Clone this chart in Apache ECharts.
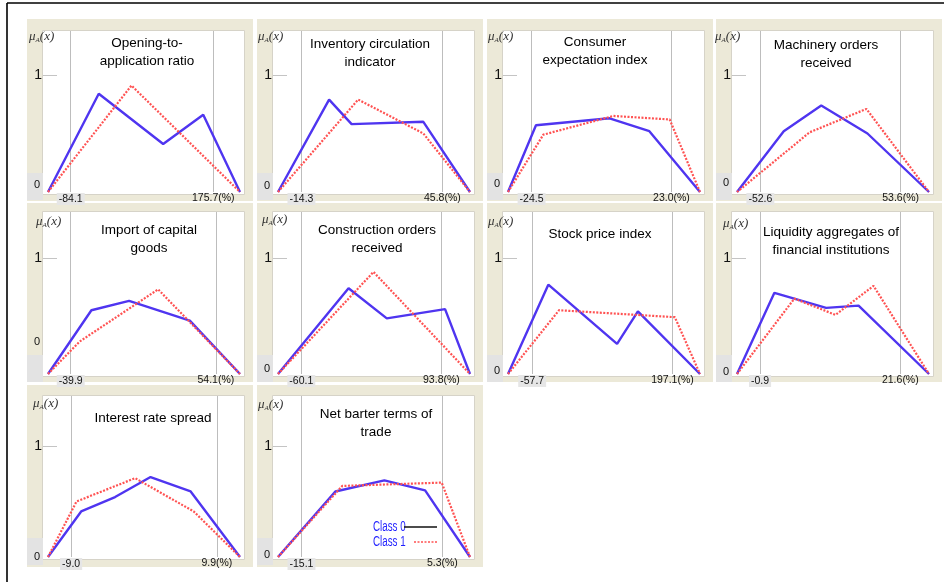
<!DOCTYPE html>
<html>
<head>
<meta charset="utf-8">
<script src="https://cdn.jsdelivr.net/npm/echarts@6/dist/echarts.min.js"></script>
<style>
  html, body { margin: 0; padding: 0; background: #fff; }
  #chart { width: 944px; height: 582px; }
</style>
</head>
<body>
<div id="chart"></div>
<script>
// Indicator names, one per panel
const titles = [
  'Opening-to-\napplication ratio', 'Inventory circulation\nindicator', 'Consumer\nexpectation index', 'Machinery orders\nreceived',
  'Import of capital\ngoods', 'Construction orders\nreceived', 'Stock price index', 'Liquidity aggregates of\nfinancial institutions',
  'Interest rate spread', 'Net barter terms of\ntrade'
];

// Observed range of each indicator (%), marked by the grey guide lines
const rangeMin = [-84.1, -14.3, -24.5, -52.6, -39.9, -60.1, -57.7, -0.9, -9.0, -15.1];
const rangeMax = [175.7, 45.8, 23.0, 53.6, 54.1, 93.8, 197.1, 21.6, 9.9, 5.3];

// Membership functions, Class 0: breakpoints x (%) and degree mu
const class0X = [
  [-125.5, -33.0, 84.4, 157.4, 224.4],
  [-24.3, -2.5, 7.1, 37.7, 57.6],
  [-32.5, -23.0, 2.0, 15.5, 32.7],
  [-70.3, -34.9, -6.5, 28.5, 75.1],
  [-54.6, -26.5, -2.1, 37.2, 69.7],
  [-85.7, -8.2, 33.8, 97.8, 125.2],
  [-101.6, -28.4, 96.5, 134.3, 247.1],
  [-4.6, 1.4, 9.7, 14.9, 26.2],
  [-12.0, -7.7, -3.3, 1.3, 6.5, 12.9],
  [-18.5, -10.2, -3.1, 2.8, 9.3]
];
const class0Mu = [
  [0, 0.84, 0.41, 0.66, 0],
  [0, 0.79, 0.58, 0.60, 0],
  [0, 0.57, 0.63, 0.52, 0],
  [0, 0.52, 0.74, 0.50, 0],
  [0, 0.55, 0.63, 0.46, 0],
  [0, 0.74, 0.48, 0.56, 0],
  [0, 0.77, 0.26, 0.54, 0],
  [0, 0.70, 0.57, 0.59, 0],
  [0, 0.41, 0.54, 0.72, 0.59, 0],
  [0, 0.59, 0.69, 0.60, 0]
];

// Membership functions, Class 1
const class1X = [
  [-125.5, 26.6, 224.4],
  [-24.3, 9.9, 37.7, 57.6],
  [-32.5, -20.5, 3.3, 22.4, 32.7],
  [-70.3, -15.3, 27.7, 75.1],
  [-54.6, -34.1, 16.7, 69.7],
  [-85.7, 19.2, 125.2],
  [-101.6, -8.9, 201.4, 247.1],
  [-4.6, 4.6, 11.2, 17.3, 26.2],
  [-12.0, -8.3, -0.7, 6.9, 12.9],
  [-18.5, -9.2, 5.2, 9.3]
];
const class1Mu = [
  [0, 0.91, 0],
  [0, 0.79, 0.50, 0],
  [0, 0.49, 0.65, 0.62, 0],
  [0, 0.51, 0.71, 0],
  [0, 0.28, 0.73, 0],
  [0, 0.88, 0],
  [0, 0.55, 0.49, 0],
  [0, 0.65, 0.51, 0.76, 0],
  [0, 0.50, 0.71, 0.41, 0],
  [0, 0.64, 0.67, 0]
];

const classNames = ['Class 0', 'Class 1'];

// ---- panel layout ----
const colLeft = [48, 278, 508, 737];          // left edge of each plot column
const plotWidth = 192;
const rowTop = [31, 212, 396];                // top of the plot area per row
const rowBase = [192, 374, 557];              // mu = 0 baseline per row
const rowMuMax = [1.376, 1.397, 1.45];
const beigeRows = [[19, 201], [203, 382], [385, 567]];
const titleX = [147, 370, 595, 826, 149, 377, 600, 831, 153, 376];
const titleY = [43.5, 44, 42, 45, 230, 230, 234, 232, 418, 414];
const muDX = [-19, -20, -20, -22, -12, -16, -20, -14, -15, -20];
const muY = [29, 29, 29, 29, 214, 212, 214, 216, 396, 397];
const zeroShift = [7, 6, 8, 9, 32, 5, 3, 2, 0, 2];

const BLUE = '#4f35f0';
const RED = '#ff5252';
const SANS = '"Liberation Sans", Arial, sans-serif';
const SERIF = '"Liberation Serif", "DejaVu Serif", serif';

const grids = [], xAxes = [], yAxes = [], series = [], graphics = [];

// outer frame
graphics.push({ type: 'line', z: -20, shape: { x1: 7, y1: 3, x2: 944, y2: 3 }, style: { stroke: '#000', lineWidth: 1.6 } });
graphics.push({ type: 'line', z: -20, shape: { x1: 7, y1: 3, x2: 7, y2: 582 }, style: { stroke: '#000', lineWidth: 1.6 } });

for (let i = 0; i < titles.length; i++) {
  const col = i % 4, row = Math.floor(i / 4);
  const L = colLeft[col], top = rowTop[row], base = rowBase[row];

  // panel background and plot area
  graphics.push({ type: 'rect', z: -15, shape: { x: L - 21, y: beigeRows[row][0], width: 226, height: beigeRows[row][1] - beigeRows[row][0] }, style: { fill: '#ece9d8' } });
  graphics.push({ type: 'rect', z: -14, shape: { x: L - 5.5, y: top - 0.5, width: 202, height: base - top + 3 }, style: { fill: '#fff', stroke: '#d6d3c8', lineWidth: 1 } });
  graphics.push({ type: 'rect', z: -13, shape: { x: L - 21, y: base - 19, width: 16, height: 27 }, style: { fill: '#e3e3e3' } });

  // panel title
  graphics.push({
    type: 'text', z: 10, x: titleX[i], y: titleY[i] - 9,
    style: { text: titles[i], fill: '#000', fontSize: 13.5, fontFamily: SANS, lineHeight: 18, align: 'center', verticalAlign: 'top' }
  });
  // mu_A(x) axis caption
  graphics.push({
    type: 'text', z: 10, x: L + muDX[i], y: muY[i],
    style: {
      text: '{m|μ}{s|A}{m|(x)}',
      rich: {
        m: { fontFamily: SERIF, fontStyle: 'italic', fontSize: 13, lineHeight: 15, fill: '#333' },
        s: { fontFamily: SERIF, fontStyle: 'italic', fontSize: 7, lineHeight: 15, verticalAlign: 'bottom', fill: '#333' }
      }
    }
  });

  grids.push({ left: L, top: top, width: plotWidth, height: base - top });
  xAxes.push({
    gridIndex: i, type: 'value', show: false,
    min: class0X[i][0], max: class0X[i][class0X[i].length - 1]
  });
  yAxes.push({
    gridIndex: i, type: 'value', min: 0, max: rowMuMax[row], offset: 5,
    axisLine: { show: false }, splitLine: { show: false }, axisTick: { show: false },
    axisLabel: {
      customValues: [0, 1], margin: 1,
      formatter: v => (v === 0 ? '{z|0}' : '{o|1}'),
      rich: {
        z: { fontSize: 11, fontFamily: SANS, color: '#111', padding: [0, 2, zeroShift[i] * 2, 0] },
        o: { fontSize: 14, fontFamily: SANS, color: '#111' }
      }
    }
  });

  const minLabel = rangeMin[i].toFixed(1);
  const maxLabel = rangeMax[i].toFixed(1) + '(%)';
  series.push({
    type: 'line', name: classNames[0], xAxisIndex: i, yAxisIndex: i,
    data: class0X[i].map((x, k) => [x, class0Mu[i][k]]),
    symbol: 'none', z: 3, silent: true,
    lineStyle: { color: BLUE, width: 2.4 },
    markLine: {
      silent: true, symbol: 'none', z: 1, animation: false,
      lineStyle: { color: '#bdbdbd', width: 1, type: 'solid' },
      label: { position: 'start', distance: 1, fontSize: 10.5, fontFamily: SANS, color: '#111' },
      data: [
        { xAxis: rangeMin[i], label: { formatter: () => minLabel, backgroundColor: '#e6e6e6', padding: [1, 2, 0, 2] } },
        { xAxis: rangeMax[i], label: { formatter: () => maxLabel } }
      ]
    }
  });
  series.push({
    type: 'line', name: classNames[1], xAxisIndex: i, yAxisIndex: i,
    data: class1X[i].map((x, k) => [x, class1Mu[i][k]]),
    symbol: 'none', z: 4, silent: true,
    lineStyle: { color: RED, width: 2.2, type: [2, 1.5] }
  });
}

// key inside the last panel
const keyX = 373, keyY = [527, 542];
const keyStroke = [{ stroke: '#111', lineWidth: 1.5 }, { stroke: RED, lineWidth: 1.5, lineDash: [2, 1.5] }];
const keyStart = [404, 414];
classNames.forEach((name, k) => {
  graphics.push({
    type: 'text', z: 10, x: keyX, y: keyY[k], scaleX: 0.7, originX: 0, originY: 0,
    style: { text: name, fill: '#1f1fff', fontSize: 14, fontFamily: SANS, align: 'left', verticalAlign: 'middle' }
  });
  graphics.push({
    type: 'line', z: 10,
    shape: { x1: keyStart[k], y1: keyY[k], x2: 437, y2: keyY[k] },
    style: keyStroke[k]
  });
});

const chart = echarts.init(document.getElementById('chart'), null, { renderer: 'canvas' });
chart.setOption({
  animation: false,
  backgroundColor: '#fff',
  grid: grids,
  xAxis: xAxes,
  yAxis: yAxes,
  series: series,
  graphic: graphics
});

// short grey tick at mu = 1, placed through each panel's own scale
const unitTicks = titles.map((t, i) => {
  const p = chart.convertToPixel({ xAxisIndex: i, yAxisIndex: i }, [class0X[i][0], 1]);
  const y = Math.round(p[1]) + 0.5;
  return { type: 'line', z: 10, shape: { x1: p[0] - 5, y1: y, x2: p[0] + 9, y2: y }, style: { stroke: '#c4c4c4', lineWidth: 1 } };
});
chart.setOption({ graphic: graphics.concat(unitTicks) });
</script>
</body>
</html>
